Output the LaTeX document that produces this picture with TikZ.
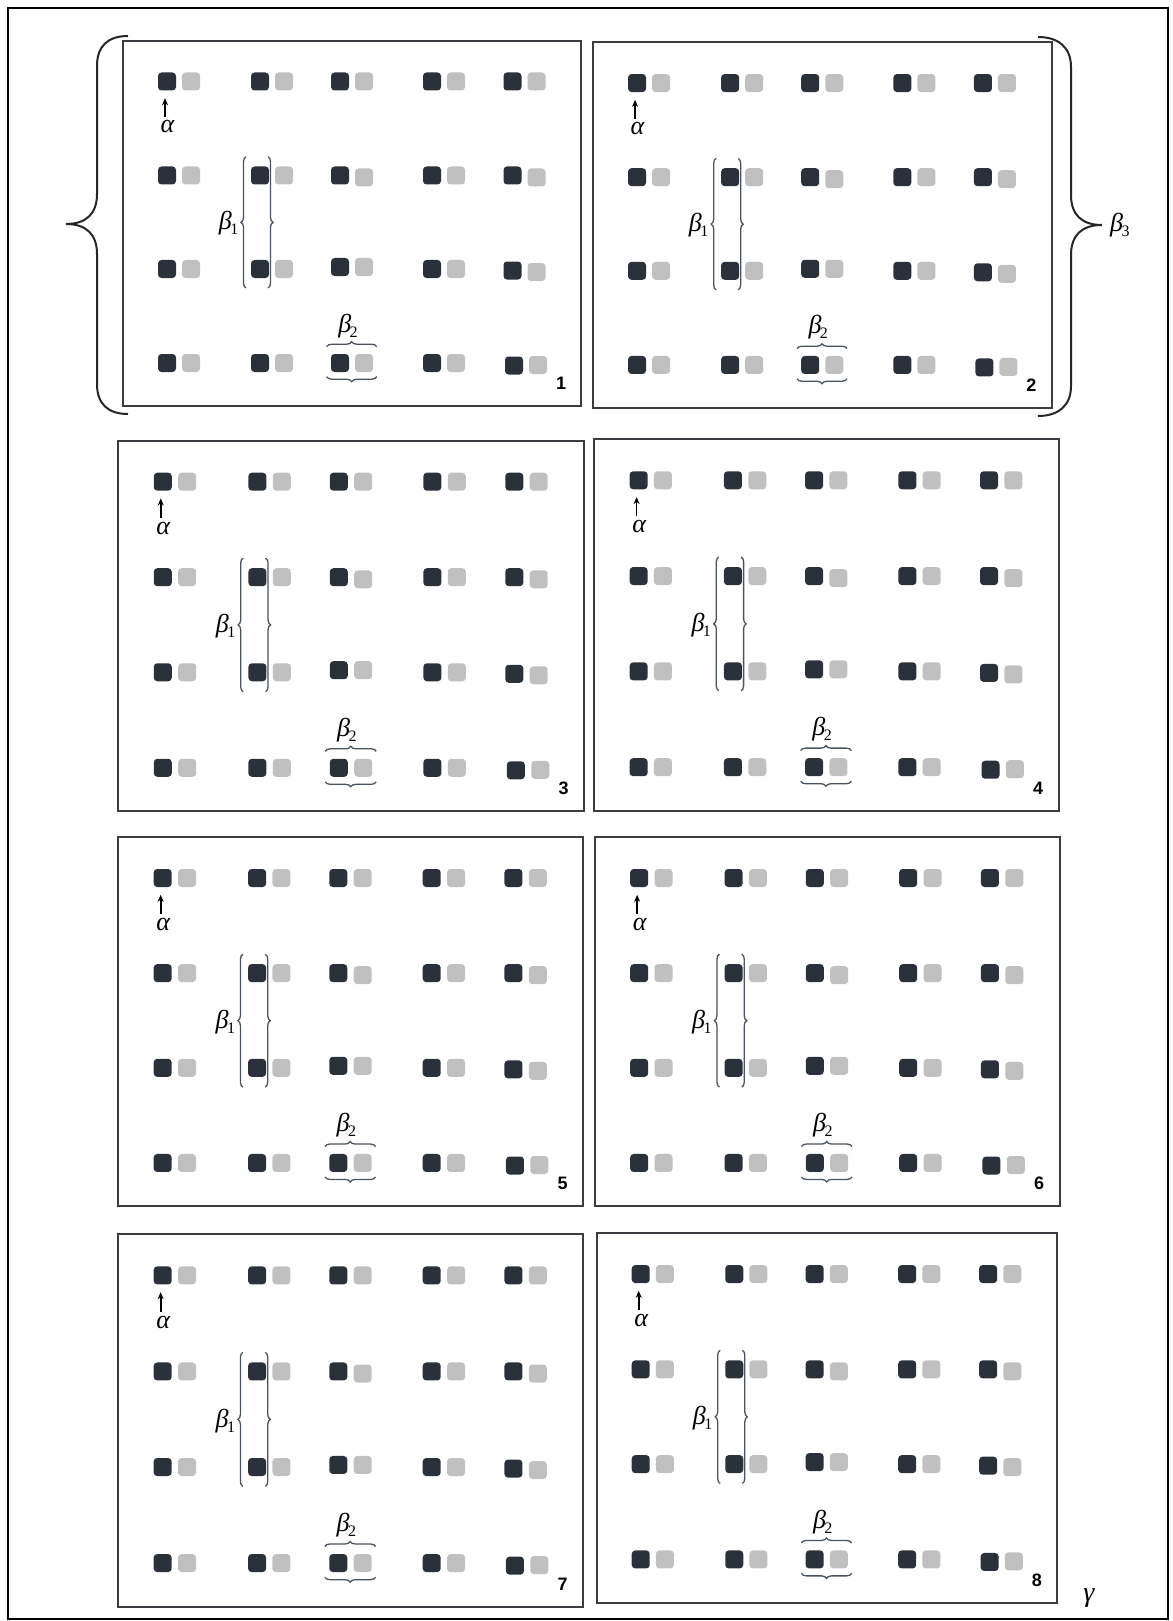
\documentclass[tikz,border=0pt]{standalone}
\usepackage{fontspec}
\usetikzlibrary{decorations.pathreplacing,arrows.meta}
\newfontfamily\lsrf{Liberation Serif}
\newfontfamily\lsans{Liberation Sans}
\definecolor{darksq}{HTML}{2A313A}
\definecolor{lightsq}{HTML}{C0C0C0}
\definecolor{framec}{HTML}{3A3D42}
\definecolor{bracec}{HTML}{4A5360}
\newcommand\grk[1]{{\lsrf\itshape\fontsize{26}{28}\selectfont #1}}
\newcommand\gsub[2]{\grk{#1}\kern-1.5pt\raisebox{-5pt}{\lsrf\fontsize{16}{16}\selectfont #2}}
\newcommand\mypanel[5]{%
  \node[panelbox, anchor=north west, minimum width={(#4-#2)*1pt}, minimum height={(#5-#3)*1pt}] (panel#1) at (#2,#3) {};
  \begin{scope}[shift={(#2,#3)}, xscale={(#4-#2)/458}, yscale={(#5-#3)/364.5}]
    \foreach \r/\c/\xx/\yy/\ly in {
      1/1/44/40.5/40.5, 1/2/137/40.5/40.5, 1/3/217/40.5/40.5, 1/4/309/40.5/40.5, 1/5/389.5/40.5/40.5,
      2/1/44/134.5/134.5, 2/2/137/134.5/134.5, 2/3/217/134.5/136.5, 2/4/309/134.5/134.5, 2/5/389.5/134.5/136.5,
      3/1/44/228/228, 3/2/137/228/228, 3/3/217/226/226, 3/4/309/228/228, 3/5/389.5/229.5/231,
      4/1/44/322/322, 4/2/137/322/322, 4/3/217/322/322, 4/4/309/322/322, 4/5/391/324.5/324}{
      \node[dk] (d#1-\r-\c) at (\xx,\yy) {};
      \node[lt] (l#1-\r-\c) at ({\xx+24},\ly) {};
    }
    % alpha
    \node[glab, anchor=base] (al#1) at (44.5,92) {\grk{α}};
    \coordinate (at#1) at (42,76);
    \draw[arr, shorten >=7.8pt] (at#1) -- (at#1 |- d#1-1-1.south);
    % beta1 brackets
    \coordinate (bla#1) at (123,247);
    \coordinate (blb#1) at (123,115.7);
    \coordinate (bra#1) at (145,115.7);
    \coordinate (brb#1) at (145,247);
    \draw[smallbrace] (bla#1) -- (blb#1);
    \draw[smallbrace] (bra#1) -- (brb#1);
    \node[glab, anchor=base east] (bo#1) at (115.5,189) {\gsub{β}{1}};
    % beta2 braces
    \coordinate (bta#1) at (203.7,305.7);
    \coordinate (btb#1) at (253.7,305.7);
    \coordinate (bba#1) at (253.7,335.7);
    \coordinate (bbb#1) at (203.7,335.7);
    \draw[smallbrace] (bta#1) -- (btb#1);
    \draw[smallbrace] (bba#1) -- (bbb#1);
    \node[glab, anchor=base] (bt#1) at (225,291) {\gsub{β}{2}};
    % number
    \node[numlab] (n#1) at (438,342.5) {#1};
  \end{scope}
}
\begin{document}
\begin{tikzpicture}[x=1pt,y=-1pt,
  dk/.style={fill=darksq, rounded corners=3.5pt, minimum size=18pt, inner sep=0pt, outer sep=0pt},
  lt/.style={fill=lightsq, rounded corners=3.5pt, minimum size=18pt, inner sep=0pt, outer sep=0pt},
  panelbox/.style={draw=framec, line width=2pt, inner sep=0pt, outer sep=0pt},
  numlab/.style={font=\lsans\bfseries\fontsize{18}{18}\selectfont, inner sep=0pt},
  glab/.style={inner sep=0pt},
  smallbrace/.style={draw=bracec, line width=1.3pt, decorate, decoration={brace, amplitude=5pt}},
  bigbrace/.style={draw=black!85, line width=2pt},
  arr/.style={-{Stealth[length=7pt,width=6pt]}, line width=1.7pt, black},
]
\useasboundingbox (0,0) rectangle (1172,1621);
\draw[line width=2.8pt] (8,8) rectangle (1168,1619);

\mypanel{1}{123}{41}{581}{405.5}
\mypanel{2}{593}{42.5}{1051.5}{407.5}
\mypanel{3}{118}{440.5}{584}{811}
\mypanel{4}{594}{439}{1058.5}{810.5}
\mypanel{5}{118}{837}{583}{1206}
\mypanel{6}{594.5}{837}{1059.5}{1206}
\mypanel{7}{118}{1234}{583}{1606.5}
\mypanel{8}{596.5}{1233}{1057}{1602.5}

% big left brace
\coordinate (lbt) at (128,36);
\coordinate (lbm) at (66,224);
\coordinate (lbb) at (128,414);
\draw[bigbrace] (lbt) .. controls (108,36) and (97,46) .. (97,66) -- (97,194)
  .. controls (97,214) and (86,224) .. (lbm)
  .. controls (86,224) and (97,234) .. (97,254) -- (97,384)
  .. controls (97,404) and (108,414) .. (lbb);
% big right brace
\coordinate (rbt) at (1038,37);
\coordinate (rbm) at (1102,225);
\coordinate (rbb) at (1038,416);
\draw[bigbrace] (rbt) .. controls (1058,37) and (1071,47) .. (1071,67) -- (1071,195)
  .. controls (1071,215) and (1082,225) .. (rbm)
  .. controls (1082,225) and (1071,235) .. (1071,255) -- (1071,386)
  .. controls (1071,406) and (1058,416) .. (rbb);
\node[glab, anchor=base west] (b3) at (1110,232) {\gsub{β}{3}};
\node[glab, anchor=base] (gam) at (1089,1601) {{\lsrf\itshape\fontsize{28}{30}\selectfont γ}};
\end{tikzpicture}
\end{document}
